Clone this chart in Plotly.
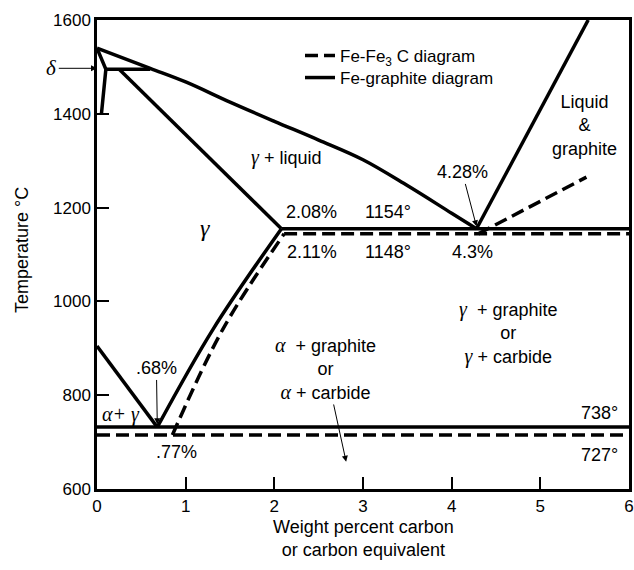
import plotly.graph_objects as go

# ---- data (weight % C, temperature °C) ----
liquidus_x = [0, 0.6, 1.0, 1.5, 2.0, 2.5, 3.0, 3.5, 4.0, 4.28]
liquidus_t = [1540, 1497, 1468, 1425, 1384, 1344, 1302, 1247, 1188, 1155]

solidus_x = [0.25, 2.08]
solidus_t = [1495, 1155]

peritectic_x = [0.1, 0.6]
peritectic_t = [1495, 1495]

delta_x = [0, 0.1, 0.05]
delta_t = [1540, 1495, 1400]

graphite_liq_x = [4.28, 5.54]
graphite_liq_t = [1155, 1600]

eutectic_g_x = [2.08, 6]
eutectic_g_t = [1155, 1155]

eutectic_c_x = [2.11, 6]
eutectic_c_t = [1144, 1144]

cementite_liq_x = [4.3, 5.52]
cementite_liq_t = [1144, 1265]

acm_g_x = [0.68, 1.31, 2.08]
acm_g_t = [732, 941, 1155]

acm_c_x = [0.85, 1.42, 2.11]
acm_c_t = [715, 941, 1144]

a3_x = [0, 0.68]
a3_t = [905, 732]

eutectoid_g_x = [0, 6]
eutectoid_g_t = [732, 732]

eutectoid_c_x = [0, 6]
eutectoid_c_t = [715, 715]

x_ticks = [0, 1, 2, 3, 4, 5, 6]
y_ticks = [600, 800, 1000, 1200, 1400, 1600]

SANS = "Liberation Sans, Arial, sans-serif"
SERIF = "Liberation Serif"
LW = 3.5
DASH = "13px,6px"


def g(s, size=20):
    st = f"font-family:{SERIF};font-size:{size}px"
    return f"<span style='{st}'><i>{s}</i></span>"


fig = go.Figure()

solid_sets = [
    (liquidus_x, liquidus_t, True, "spline"),
    (solidus_x, solidus_t, False, "linear"),
    (peritectic_x, peritectic_t, False, "linear"),
    (delta_x, delta_t, False, "linear"),
    (graphite_liq_x, graphite_liq_t, False, "linear"),
    (eutectic_g_x, eutectic_g_t, False, "linear"),
    (acm_g_x, acm_g_t, False, "spline"),
    (a3_x, a3_t, False, "linear"),
    (eutectoid_g_x, eutectoid_g_t, False, "linear"),
]
dashed_sets = [
    (acm_c_x, acm_c_t, True, "spline"),
    (eutectic_c_x, eutectic_c_t, False, "linear"),
    (cementite_liq_x, cementite_liq_t, False, "linear"),
    (eutectoid_c_x, eutectoid_c_t, False, "linear"),
]

for xs, ts, leg, shp in dashed_sets:
    fig.add_trace(go.Scatter(
        x=xs, y=ts, mode="lines",
        line=dict(color="black", width=LW, dash=DASH, shape=shp),
        name="Fe-Fe<sub>3</sub> C diagram", showlegend=leg, legend="legend",
        hoverinfo="skip"))

for xs, ts, leg, shp in solid_sets:
    fig.add_trace(go.Scatter(
        x=xs, y=ts, mode="lines",
        line=dict(color="black", width=LW, shape=shp),
        name="Fe-graphite diagram", showlegend=leg, legend="legend2",
        hoverinfo="skip"))

FS = 18
ann = []


def label(text, x, y, size=FS):
    ann.append(dict(x=x, y=y, xref="x", yref="y", text=text, showarrow=False,
                    font=dict(size=size, color="black", family=SANS)))


def arrow(text, x, y, ax, ay):
    ann.append(dict(x=x, y=y, xref="x", yref="y", ax=ax, ay=ay,
                    axref="x", ayref="y", text=text, showarrow=True,
                    arrowhead=2, arrowsize=1.2, arrowwidth=1, arrowcolor="black",
                    font=dict(size=FS, color="black", family=SANS)))


label(g("γ") + " + liquid", 2.13, 1306)
label(g("γ", 24), 1.22, 1157)
label("2.08%", 2.42, 1191)
label("1154°", 3.28, 1191)
arrow("4.28%", 4.28, 1160, 4.12, 1275)
label("2.11%", 2.42, 1106)
label("1148°", 3.28, 1106)
label("4.3%", 4.24, 1106)
label("Liquid<br>&<br>graphite", 5.50, 1374)
label(g("γ") + "  + graphite<br>or<br>" + g("γ") + " + carbide", 4.64, 933)
arrow(g("α") + "  + graphite<br>or<br>" + g("α") + " + carbide", 2.81, 658, 2.58, 857)
arrow(".68%", 0.68, 738, 0.67, 857)
label(g("α+ γ"), 0.27, 759)
label(".77%", 0.9, 679)
label("738°", 5.67, 763)
label("727°", 5.67, 673)
arrow(g("δ", 21), 0, 1497, -0.51, 1497)

# axis titles
ann.append(dict(x=(22 - 97) / 532, y=(489 - 250) / 469, xref="paper", yref="paper",
                xanchor="center", yanchor="middle",
                text="Temperature °C", textangle=-90, showarrow=False,
                font=dict(size=FS, color="black", family=SANS)))
ann.append(dict(x=0.5, y=(489 - 538) / 469, xref="paper", yref="paper",
                xanchor="center", yanchor="middle",
                text="Weight percent carbon<br>or carbon equivalent", showarrow=False,
                font=dict(size=FS, color="black", family=SANS)))

LFS = 17
LEG_X = (338 - 38 - 97) / 532
fig.update_layout(
    width=634, height=570,
    margin=dict(l=97, r=5, t=20, b=81, autoexpand=False),
    paper_bgcolor="white", plot_bgcolor="white",
    font=dict(family=SANS, size=FS, color="black"),
    annotations=ann,
    legend=dict(x=LEG_X, y=(489 - 56) / 469, xanchor="left",
                yanchor="middle", bgcolor="rgba(0,0,0,0)",
                font=dict(size=LFS, family=SANS)),
    legend2=dict(x=LEG_X, y=(489 - 78) / 469, xanchor="left",
                 yanchor="middle", bgcolor="rgba(0,0,0,0)",
                 font=dict(size=LFS, family=SANS)),
)
fig.update_xaxes(range=[0, 6], tickvals=x_ticks, ticks="inside", ticklen=12,
                 tickwidth=1.5, tickcolor="black", showline=True, linewidth=2.5,
                 linecolor="black", mirror=True, showgrid=False, zeroline=False,
                 automargin=False, tickfont=dict(size=17, family=SANS))
fig.update_yaxes(range=[600, 1600], tickvals=y_ticks, ticks="inside", ticklen=12,
                 tickwidth=1.5, tickcolor="black", showline=True, linewidth=2.5,
                 linecolor="black", mirror=True, showgrid=False, zeroline=False,
                 automargin=False, tickfont=dict(size=17, family=SANS))

fig.write_html("out.html",
               config={"displayModeBar": False},
               post_script="document.body.style.margin='0px';"
                           "document.body.style.overflow='hidden';")
